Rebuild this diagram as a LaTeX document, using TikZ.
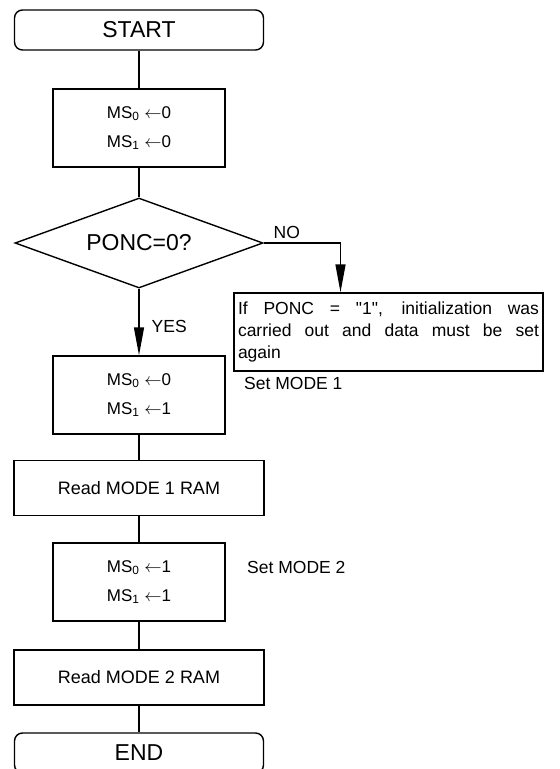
\documentclass[tikz,border=0pt]{standalone}
\usepackage{fontspec}
\setmainfont{Liberation Sans}
\usepackage{tikz}
\usetikzlibrary{arrows.meta,shapes.geometric,positioning}

\newcommand{\qd}{\XeTeXglyph\XeTeXglyphindex "quotedbl"\relax}

\tikzset{
  flow/.style={line width=1.4pt},
  arrowflow/.style={line width=1.4pt, -{Triangle[length=28pt,width=10pt]}},
  termbox/.style={draw, line width=1.4pt, rounded corners=8pt, minimum width=249pt, minimum height=40pt, font=\fontsize{23}{27}\selectfont},
  msbox/.style={draw, line width=1.4pt, minimum width=172pt, minimum height=78pt, align=center, font=\fontsize{17}{29}\selectfont},
  readbox/.style={draw, line width=1.4pt, minimum width=250pt, minimum height=55pt, font=\fontsize{18}{22}\selectfont},
  decbox/.style={draw, diamond, line width=1.4pt, inner sep=0pt, aspect=2.75, minimum width=248pt, minimum height=90pt, font=\fontsize{23}{27}\selectfont},
  notebox/.style={draw, line width=1.4pt, inner sep=4pt, text width=301pt, minimum height=78pt, align=justify, font=\fontsize{17.5}{21.7}\selectfont},
  lbl/.style={font=\fontsize{17.5}{21}\selectfont, inner sep=0pt}
}

\begin{document}
\begin{tikzpicture}[x=1pt,y=-1pt]
  \useasboundingbox (0,0) rectangle (560,769);

  % coords
  \coordinate (cstart) at (139, 30);
  \coordinate (cinit) at (139, 128);
  \coordinate (cdec) at (139, 243);
  \coordinate (cset1) at (139, 395);
  \coordinate (cread1) at (139, 488);
  \coordinate (cset2) at (139, 582);
  \coordinate (cread2) at (139, 677.5);
  \coordinate (cend) at (139, 753);
  \coordinate (cnote) at (388.5, 332);

  % boxes
  \node[termbox] (start) at (cstart) {START};
  \node[msbox] (init) at (cinit) {MS\textsubscript{0} $\leftarrow$0\\MS\textsubscript{1} $\leftarrow$0};
  \node[decbox] (dec) at (cdec) {PONC=0?};
  \node[notebox] (note) at (cnote) {If PONC = \qd1\qd, initialization was\linebreak carried out and data must be set\linebreak again};
  \node[msbox] (set1) at (cset1) {MS\textsubscript{0} $\leftarrow$0\\MS\textsubscript{1} $\leftarrow$1};
  \node[readbox] (read1) at (cread1) {Read MODE 1 RAM};
  \node[msbox] (set2) at (cset2) {MS\textsubscript{0} $\leftarrow$1\\MS\textsubscript{1} $\leftarrow$1};
  \node[readbox] (read2) at (cread2) {Read MODE 2 RAM};
  \node[termbox] (end) at (cend) {END};

  % side texts
  \node[lbl, anchor=west] (mode1) at (244, 383) {Set MODE 1};
  \node[lbl, anchor=west] (mode2) at (247, 567) {Set MODE 2};

  % connectors
  \coordinate (noin) at ([xshift=-48pt]note.north);
  \draw[flow] (start) -- (init);
  \draw[flow] (init) -- (dec);
  \draw[arrowflow] (dec.east) -| (noin) node[lbl, pos=0.15, above=4pt] (no) {NO};
  \draw[arrowflow] (dec.south) -- (set1.north) node[lbl, midway, right=12pt, yshift=-4pt] (yes) {YES};
  \draw[flow] (set1) -- (read1);
  \draw[flow] (read1) -- (set2);
  \draw[flow] (set2) -- (read2);
  \draw[flow] (read2) -- (end);
\end{tikzpicture}
\end{document}
